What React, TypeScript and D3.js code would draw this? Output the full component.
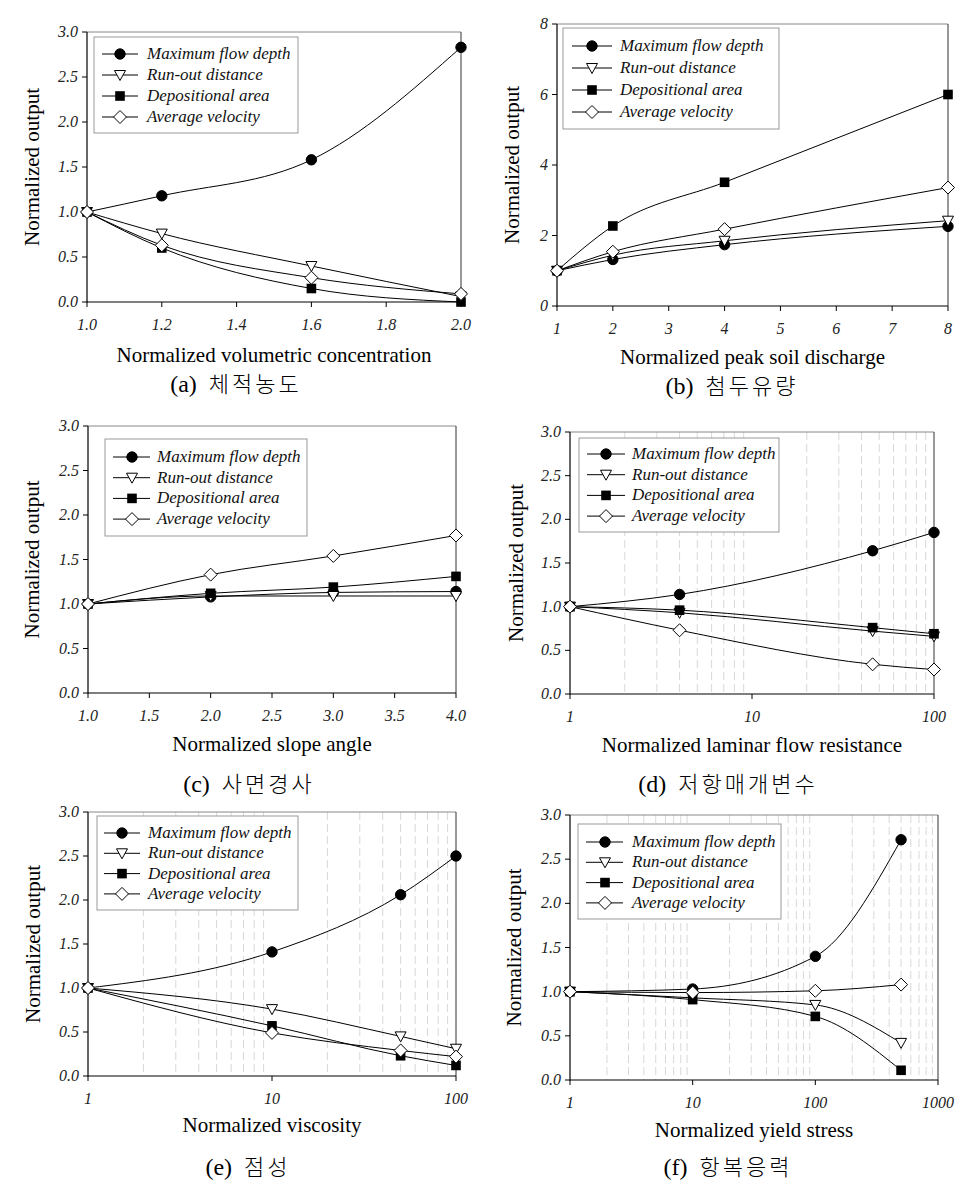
import React from "react";
import * as d3 from "d3";

// ---------- DATA ----------
const seriesNames = ["Maximum flow depth", "Run-out distance", "Depositional area", "Average velocity"];

// (a) volumetric concentration
const concX = [1.0, 1.2, 1.6, 2.0];
const concMaxDepth = [1.0, 1.18, 1.58, 2.83];
const concRunout = [1.0, 0.76, 0.40, 0.06];
const concDepArea = [1.0, 0.60, 0.15, 0.0];
const concVelocity = [1.0, 0.63, 0.27, 0.09];
const concXTicks = [1.0, 1.2, 1.4, 1.6, 1.8, 2.0];

// (b) peak soil discharge
const dischX = [1, 2, 4, 8];
const dischMaxDepth = [1.0, 1.32, 1.74, 2.26];
const dischRunout = [1.0, 1.44, 1.85, 2.42];
const dischDepArea = [1.0, 2.27, 3.51, 6.0];
const dischVelocity = [1.0, 1.54, 2.18, 3.36];
const dischXTicks = [1, 2, 3, 4, 5, 6, 7, 8];
const dischYTicks = [0, 2, 4, 6, 8];

// (c) slope angle
const slopeX = [1.0, 2.0, 3.0, 4.0];
const slopeMaxDepth = [1.0, 1.08, 1.13, 1.14];
const slopeRunout = [1.0, 1.09, 1.09, 1.09];
const slopeDepArea = [1.0, 1.12, 1.19, 1.31];
const slopeVelocity = [1.0, 1.33, 1.54, 1.77];
const slopeXTicks = [1.0, 1.5, 2.0, 2.5, 3.0, 3.5, 4.0];

// (d) laminar flow resistance
const resistX = [1, 4, 46, 100];
const resistMaxDepth = [1.0, 1.14, 1.64, 1.85];
const resistRunout = [1.0, 0.93, 0.72, 0.66];
const resistDepArea = [1.0, 0.96, 0.76, 0.69];
const resistVelocity = [1.0, 0.73, 0.34, 0.28];

// (e) viscosity
const viscX = [1, 10, 50, 100];
const viscMaxDepth = [1.0, 1.41, 2.06, 2.5];
const viscRunout = [1.0, 0.76, 0.45, 0.31];
const viscDepArea = [1.0, 0.57, 0.23, 0.12];
const viscVelocity = [1.0, 0.49, 0.29, 0.22];

// (f) yield stress
const yieldX = [1, 10, 100, 500];
const yieldMaxDepth = [1.0, 1.03, 1.40, 2.72];
const yieldRunout = [1.0, 0.93, 0.85, 0.42];
const yieldDepArea = [1.0, 0.91, 0.72, 0.11];
const yieldVelocity = [1.0, 0.99, 1.01, 1.08];

const outputYTicks = [0, 0.5, 1.0, 1.5, 2.0, 2.5, 3.0];
const logTicks2 = [1, 10, 100];
const logTicks3 = [1, 10, 100, 1000];

// ---------- DRAWING ----------
const SERIF = "'Liberation Serif', 'Times New Roman', serif";
const CJK = "'Noto Sans CJK KR', sans-serif";

type Frame = { l: number; r: number; t: number; b: number };
type Leg = { x0: number; x1: number; y0: number; y1: number; iy: number; step: number; lx0: number; lx1: number; mx: number; tx: number };

function Marker({ kind, x, y }: { kind: number; x: number; y: number }) {
  if (kind === 0) return <circle cx={x} cy={y} r={5.2} fill="#000" stroke="#000" />;
  if (kind === 1)
    return <polygon points={`${x - 5.5},${y - 4.5} ${x + 5.5},${y - 4.5} ${x},${y + 5.5}`} fill="#fff" stroke="#000" strokeWidth={1} />;
  if (kind === 2) return <rect x={x - 4.8} y={y - 4.8} width={9.6} height={9.6} fill="#000" />;
  return <polygon points={`${x},${y - 6.5} ${x + 6.5},${y} ${x},${y + 6.5} ${x - 6.5},${y}`} fill="#fff" stroke="#000" strokeWidth={1} />;
}

function Panel(props: {
  f: Frame;
  log?: boolean;
  xDomain: [number, number];
  yDomain: [number, number];
  xTicks: number[];
  yTicks: number[];
  xFmt: (v: number) => string;
  yFmt: (v: number) => string;
  xs: number[];
  series: number[][];
  leg: Leg;
  xTitle: string;
  xTitleY: number;
  yTitleX: number;
  letter: string;
  caption: string;
  capX: number;
  capY: number;
}) {
  const { f, leg } = props;
  const x = props.log
    ? d3.scaleLog().domain(props.xDomain).range([f.l, f.r])
    : d3.scaleLinear().domain(props.xDomain).range([f.l, f.r]);
  const y = d3.scaleLinear().domain(props.yDomain).range([f.b, f.t]);

  const grid: number[] = [];
  if (props.log) {
    for (let d = props.xDomain[0]; d < props.xDomain[1]; d *= 10) {
      for (let k = 2; k <= 9; k++) grid.push(k * d);
    }
  }

  const line = d3
    .line<number>()
    .x((_, i) => x(props.xs[i]))
    .y((d) => y(d))
    .curve(d3.curveMonotoneX);

  const cx = (f.l + f.r) / 2;
  const cy = (f.t + f.b) / 2;

  return (
    <g>
      {grid.map((g, i) => (
        <line key={"g" + i} x1={x(g)} x2={x(g)} y1={f.t} y2={f.b} stroke="#d8d8d8" strokeWidth={1} strokeDasharray="8,4" />
      ))}
      {/* frame */}
      <line x1={f.l} x2={f.r} y1={f.t} y2={f.t} stroke="#888" strokeWidth={1} />
      <line x1={f.r} x2={f.r} y1={f.t} y2={f.b} stroke="#333" strokeWidth={1} />
      <line x1={f.l} x2={f.l} y1={f.t} y2={f.b + 0.5} stroke="#000" strokeWidth={1.2} />
      <line x1={f.l} x2={f.r} y1={f.b} y2={f.b} stroke="#000" strokeWidth={1.2} />
      {props.yTicks.map((t, i) => (
        <g key={"yt" + i}>
          <line x1={f.l - 5} x2={f.l} y1={y(t)} y2={y(t)} stroke="#000" />
          <text x={f.l - 9} y={y(t) + 5} textAnchor="end" fontFamily={SERIF} fontStyle="italic" fontSize={16} fill="#222">
            {props.yFmt(t)}
          </text>
        </g>
      ))}
      {props.xTicks.map((t, i) => (
        <g key={"xt" + i}>
          <line x1={x(t)} x2={x(t)} y1={f.b} y2={f.b + 5} stroke="#000" />
          <text x={x(t)} y={f.b + 28} textAnchor="middle" fontFamily={SERIF} fontStyle="italic" fontSize={16} fill="#222">
            {props.xFmt(t)}
          </text>
        </g>
      ))}
      {/* series */}
      {props.series.map((s, si) => (
        <path key={"p" + si} d={line(s) || ""} fill="none" stroke="#000" strokeWidth={1} />
      ))}
      {props.series.map((s, si) =>
        s.map((v, i) => <Marker key={"m" + si + "-" + i} kind={si} x={x(props.xs[i])} y={y(v)} />)
      )}
      {/* legend */}
      <rect x={leg.x0} y={leg.y0} width={leg.x1 - leg.x0} height={leg.y1 - leg.y0} fill="#fff" stroke="#999" strokeWidth={1} />
      {seriesNames.map((n, i) => {
        const ly = leg.iy + i * leg.step;
        return (
          <g key={"l" + i}>
            <line x1={leg.lx0} x2={leg.lx1} y1={ly} y2={ly} stroke="#000" />
            <Marker kind={i} x={leg.mx} y={ly} />
            <text x={leg.tx} y={ly + 5} fontFamily={SERIF} fontStyle="italic" fontSize={17} fill="#111">
              {n}
            </text>
          </g>
        );
      })}
      {/* titles */}
      <text x={cx} y={props.xTitleY} textAnchor="middle" fontFamily={SERIF} fontSize={21} fill="#000">
        {props.xTitle}
      </text>
      <text
        transform={`translate(${props.yTitleX},${cy}) rotate(-90)`}
        textAnchor="middle"
        fontFamily={SERIF}
        fontSize={21}
        fill="#000"
      >
        Normalized output
      </text>
      <text x={props.capX} y={props.capY} textAnchor="middle" fill="#000">
        <tspan fontFamily={SERIF} fontSize={24}>
          {props.letter}
        </tspan>
        <tspan fontFamily={CJK} fontSize={22} fontWeight={300} letterSpacing={3} dx={12}>
          {props.caption}
        </tspan>
      </text>
    </g>
  );
}

const f1 = (v: number) => v.toFixed(1);
const f0 = (v: number) => String(v);

export default function App() {
  return (
    <svg width={961} height={1187} style={{ position: "absolute", left: 0, top: 0, background: "#fff" }}>
      <rect x={0} y={0} width={961} height={1187} fill="#fff" />
      <Panel
        f={{ l: 87, r: 461, t: 32, b: 302 }}
        xDomain={[1, 2]}
        yDomain={[0, 3]}
        xTicks={concXTicks}
        yTicks={outputYTicks}
        xFmt={f1}
        yFmt={f1}
        xs={concX}
        series={[concMaxDepth, concRunout, concDepArea, concVelocity]}
        leg={{ x0: 94, x1: 298, y0: 37, y1: 133, iy: 54, step: 21, lx0: 102, lx1: 138, mx: 120, tx: 147 }}
        xTitle="Normalized volumetric concentration"
        xTitleY={362}
        yTitleX={39}
        letter="(a)"
        caption="체적농도"
        capX={236}
        capY={392}
      />
      <Panel
        f={{ l: 557, r: 948, t: 24, b: 306 }}
        xDomain={[1, 8]}
        yDomain={[0, 8]}
        xTicks={dischXTicks}
        yTicks={dischYTicks}
        xFmt={f0}
        yFmt={f0}
        xs={dischX}
        series={[dischMaxDepth, dischRunout, dischDepArea, dischVelocity]}
        leg={{ x0: 563, x1: 779, y0: 28, y1: 129, iy: 46, step: 22, lx0: 572, lx1: 612, mx: 592, tx: 620 }}
        xTitle="Normalized peak soil discharge"
        xTitleY={364}
        yTitleX={519}
        letter="(b)"
        caption="첨두유량"
        capX={732}
        capY={394}
      />
      <Panel
        f={{ l: 88, r: 456, t: 426, b: 693 }}
        xDomain={[1, 4]}
        yDomain={[0, 3]}
        xTicks={slopeXTicks}
        yTicks={outputYTicks}
        xFmt={f1}
        yFmt={f1}
        xs={slopeX}
        series={[slopeMaxDepth, slopeRunout, slopeDepArea, slopeVelocity]}
        leg={{ x0: 105, x1: 307, y0: 439, y1: 536, iy: 457, step: 20.7, lx0: 113, lx1: 150, mx: 132, tx: 157 }}
        xTitle="Normalized slope angle"
        xTitleY={751}
        yTitleX={39}
        letter="(c)"
        caption="사면경사"
        capX={249}
        capY={792}
      />
      <Panel
        f={{ l: 570, r: 934, t: 432, b: 694 }}
        log
        xDomain={[1, 100]}
        yDomain={[0, 3]}
        xTicks={logTicks2}
        yTicks={outputYTicks}
        xFmt={f0}
        yFmt={f1}
        xs={resistX}
        series={[resistMaxDepth, resistRunout, resistDepArea, resistVelocity]}
        leg={{ x0: 579, x1: 779, y0: 438, y1: 532, iy: 454, step: 20.7, lx0: 587, lx1: 625, mx: 606, tx: 632 }}
        xTitle="Normalized laminar flow resistance"
        xTitleY={752}
        yTitleX={523}
        letter="(d)"
        caption="저항매개변수"
        capX={728}
        capY={792}
      />
      <Panel
        f={{ l: 88, r: 456, t: 812, b: 1076 }}
        log
        xDomain={[1, 100]}
        yDomain={[0, 3]}
        xTicks={logTicks2}
        yTicks={outputYTicks}
        xFmt={f0}
        yFmt={f1}
        xs={viscX}
        series={[viscMaxDepth, viscRunout, viscDepArea, viscVelocity]}
        leg={{ x0: 97, x1: 298, y0: 816, y1: 910, iy: 833, step: 20.3, lx0: 104, lx1: 140, mx: 122, tx: 148 }}
        xTitle="Normalized viscosity"
        xTitleY={1132}
        yTitleX={40}
        letter="(e)"
        caption="점성"
        capX={248}
        capY={1175}
      />
      <Panel
        f={{ l: 570, r: 938, t: 815, b: 1080 }}
        log
        xDomain={[1, 1000]}
        yDomain={[0, 3]}
        xTicks={logTicks3}
        yTicks={outputYTicks}
        xFmt={f0}
        yFmt={f1}
        xs={yieldX}
        series={[yieldMaxDepth, yieldRunout, yieldDepArea, yieldVelocity]}
        leg={{ x0: 578, x1: 781, y0: 824, y1: 919, iy: 842, step: 20.3, lx0: 586, lx1: 623, mx: 605, tx: 632 }}
        xTitle="Normalized yield stress"
        xTitleY={1137}
        yTitleX={521}
        letter="(f)"
        caption="항복응력"
        capX={728}
        capY={1175}
      />
    </svg>
  );
}
